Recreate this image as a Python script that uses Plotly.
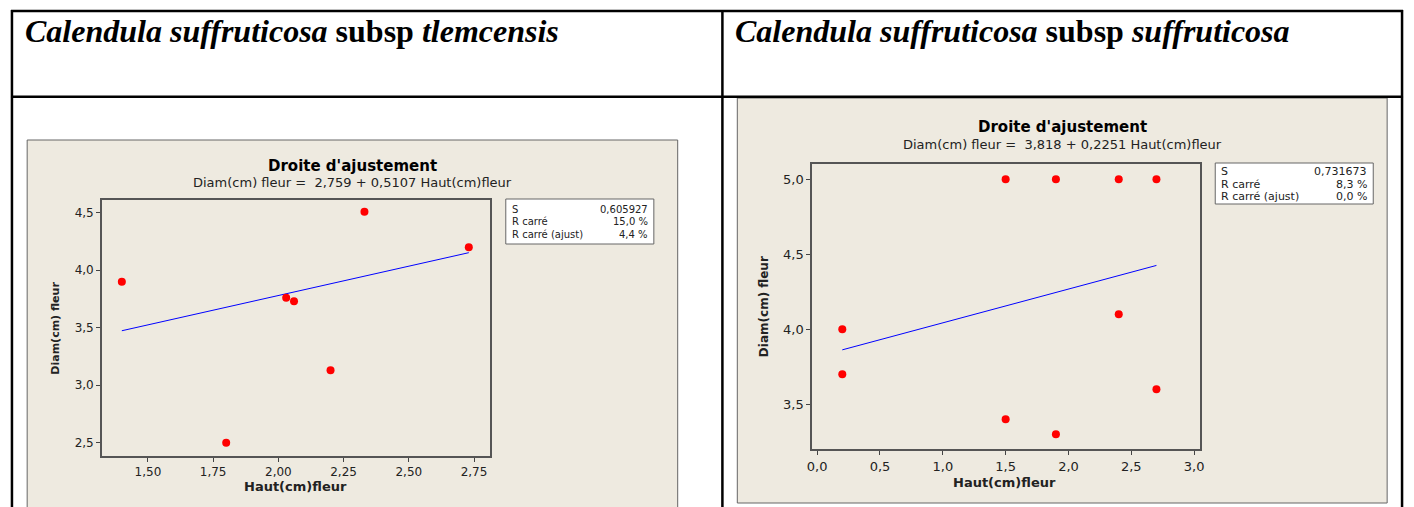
import numpy as np
import plotly.graph_objects as go

W, H = 1414, 507

# ---------------- data ----------------
# Left: Calendula suffruticosa subsp tlemcensis
haut_tlem = [1.40, 1.80, 2.03, 2.06, 2.20, 2.33, 2.73]
diam_tlem = [3.90, 2.50, 3.76, 3.73, 3.13, 4.51, 4.20]
fit_tlem = (2.759, 0.5107)          # intercept, slope
stats_tlem = [("S", "0,605927"), ("R carré", "15,0 %"), ("R carré (ajust)", "4,4 %")]
xt_tlem_vals = [1.50, 1.75, 2.00, 2.25, 2.50, 2.75]
xt_tlem_text = ["1,50", "1,75", "2,00", "2,25", "2,50", "2,75"]
yt_tlem_vals = [2.5, 3.0, 3.5, 4.0, 4.5]
yt_tlem_text = ["2,5", "3,0", "3,5", "4,0", "4,5"]

# Right: Calendula suffruticosa subsp suffruticosa
haut_suff = [0.2, 0.2, 1.5, 1.5, 1.9, 1.9, 2.4, 2.4, 2.7, 2.7]
diam_suff = [4.0, 3.7, 5.0, 3.4, 5.0, 3.3, 5.0, 4.1, 5.0, 3.6]
fit_suff = (3.818, 0.2251)
stats_suff = [("S", "0,731673"), ("R carré", "8,3 %"), ("R carré (ajust)", "0,0 %")]
xt_suff_vals = [0.0, 0.5, 1.0, 1.5, 2.0, 2.5, 3.0]
xt_suff_text = ["0,0", "0,5", "1,0", "1,5", "2,0", "2,5", "3,0"]
yt_suff_vals = [3.5, 4.0, 4.5, 5.0]
yt_suff_text = ["3,5", "4,0", "4,5", "5,0"]

title_main = "Droite d'ajustement"
sub_tlem = "Diam(cm) fleur =  2,759 + 0,5107 Haut(cm)fleur"
sub_suff = "Diam(cm) fleur =  3,818 + 0,2251 Haut(cm)fleur"
xlab = "Haut(cm)fleur"
ylab = "Diam(cm) fleur"
head_tlem = "<b><i>Calendula suffruticosa</i></b><b> subsp </b><b><i>tlemcensis</i></b>"
head_suff = "<b><i>Calendula suffruticosa</i></b><b> subsp </b><b><i>suffruticosa</i></b>"

# ---------------- helpers ----------------
def px(x):
    return x / W

def py(y):
    return 1 - y / H

PANEL = "#EEEAE0"
FONT = "DejaVu Sans"
TXT = "#222222"

fig = go.Figure()

def fit_line(xs, coef):
    xs = np.array([min(xs), max(xs)])
    return xs, coef[0] + coef[1] * xs

# scatter + fit lines
lx, ly = fit_line(haut_tlem, fit_tlem)
fig.add_trace(go.Scatter(x=lx, y=ly, mode="lines", line=dict(color="#0000FF", width=1),
                         xaxis="x", yaxis="y", showlegend=False, hoverinfo="skip"))
fig.add_trace(go.Scatter(x=haut_tlem, y=diam_tlem, mode="markers",
                         marker=dict(color="#FF0000", size=8), xaxis="x", yaxis="y",
                         showlegend=False))
rx, ry = fit_line(haut_suff, fit_suff)
fig.add_trace(go.Scatter(x=rx, y=ry, mode="lines", line=dict(color="#0000FF", width=1),
                         xaxis="x2", yaxis="y2", showlegend=False, hoverinfo="skip"))
fig.add_trace(go.Scatter(x=haut_suff, y=diam_suff, mode="markers",
                         marker=dict(color="#FF0000", size=8), xaxis="x2", yaxis="y2",
                         showlegend=False))

def axis(domain, rng, vals, text, anchor, fs):
    return dict(domain=domain, range=rng, tickvals=vals, ticktext=text,
                ticks="outside", ticklen=4, tickcolor="#444", tickwidth=1,
                showline=True, mirror=True, linecolor="#555", linewidth=1.5,
                showgrid=False, zeroline=False, anchor=anchor,
                tickfont=dict(family=FONT, size=fs, color=TXT))

fig.update_layout(
    width=W, height=H, margin=dict(l=0, r=0, t=0, b=0),
    paper_bgcolor="white", plot_bgcolor="white",
    xaxis=axis([px(97.5), px(488.3)], [1.3235, 2.812], xt_tlem_vals, xt_tlem_text, "y", 12),
    yaxis=axis([py(456), py(199.5)], [2.384, 4.616], yt_tlem_vals, yt_tlem_text, "x", 12),
    xaxis2=axis([px(812.3), px(1202.7)], [-0.04, 3.047], xt_suff_vals, xt_suff_text, "y2", 13),
    yaxis2=axis([py(449.3), py(164)], [3.2, 5.102], yt_suff_vals, yt_suff_text, "x2", 13),
)

shapes = []
annots = []

# panels (backgrounds)
shapes.append(dict(type="rect", xref="paper", yref="paper", x0=px(22.3), x1=px(677),
                   y0=py(520), y1=py(140), fillcolor=PANEL, line=dict(color="#666", width=1),
                   layer="below"))
shapes.append(dict(type="rect", xref="paper", yref="paper", x0=px(737), x1=px(1391),
                   y0=py(503), y1=py(98), fillcolor=PANEL, line=dict(color="#666", width=1),
                   layer="below"))

# table lines
tl = dict(color="black", width=2.5)
for (x0, y0, x1, y1) in [(6, 11, 1407, 11), (6, 96.7, 1407, 96.7),
                         (7, 10, 7, 520), (722, 10, 722, 520), (1406, 10, 1406, 520)]:
    shapes.append(dict(type="line", xref="paper", yref="paper", x0=px(x0), x1=px(x1),
                       y0=py(y0), y1=py(y1), line=tl))

# stats boxes
def stats_box(x0, x1, y0, y1, rows, row_y, fs):
    shapes.append(dict(type="rect", xref="paper", yref="paper", x0=px(x0), x1=px(x1),
                       y0=py(y1), y1=py(y0), fillcolor="white",
                       line=dict(color="#666", width=1)))
    for (lab, val), yy in zip(rows, row_y):
        annots.append(dict(x=px(x0 + 4), y=py(yy), xref="paper", yref="paper", text=lab,
                           showarrow=False, xanchor="left", yanchor="middle",
                           font=dict(family=FONT, size=fs, color=TXT)))
        annots.append(dict(x=px(x1 - 4), y=py(yy), xref="paper", yref="paper", text=val,
                           showarrow=False, xanchor="right", yanchor="middle",
                           font=dict(family=FONT, size=fs, color=TXT)))

stats_box(504, 653, 199, 244, stats_tlem, [209, 221.5, 234], 10)
stats_box(1218, 1377, 163, 204, stats_suff, [171.5, 184, 196.5], 11)

# chart titles
def titles(cx, ty, sy, sub):
    annots.append(dict(x=px(cx), y=py(ty), xref="paper", yref="paper", text="<b>" + title_main + "</b>",
                       showarrow=False, xanchor="center", yanchor="middle",
                       font=dict(family=FONT, size=15, color="black")))
    annots.append(dict(x=px(cx), y=py(sy), xref="paper", yref="paper", text=sub,
                       showarrow=False, xanchor="center", yanchor="middle",
                       font=dict(family=FONT, size=13, color=TXT)))

titles(349.5, 166, 182.5, sub_tlem)
titles(1064, 126.5, 144.5, sub_suff)

# axis titles
def axtitles(xcx, xty, ycx, ycy, fsx, fsy):
    annots.append(dict(x=px(xcx), y=py(xty), xref="paper", yref="paper", text="<b>" + xlab + "</b>",
                       showarrow=False, xanchor="center", yanchor="middle",
                       font=dict(family=FONT, size=fsx, color=TXT)))
    annots.append(dict(x=px(ycx), y=py(ycy), xref="paper", yref="paper", text="<b>" + ylab + "</b>",
                       showarrow=False, xanchor="center", yanchor="middle", textangle=-90,
                       font=dict(family=FONT, size=fsy, color=TXT)))

axtitles(292, 486, 50, 328, 13, 11)
axtitles(1006, 482, 764, 307, 13, 12)

# header cells
for txt, x0 in [(head_tlem, 18), (head_suff, 733)]:
    annots.append(dict(x=px(x0), y=py(31), xref="paper", yref="paper", text=txt,
                       showarrow=False, xanchor="left", yanchor="middle",
                       font=dict(family="Liberation Serif", size=32, color="black",
                                 weight="bold")))

fig.update_layout(shapes=shapes, annotations=annots)
fig.write_html("out.html")
